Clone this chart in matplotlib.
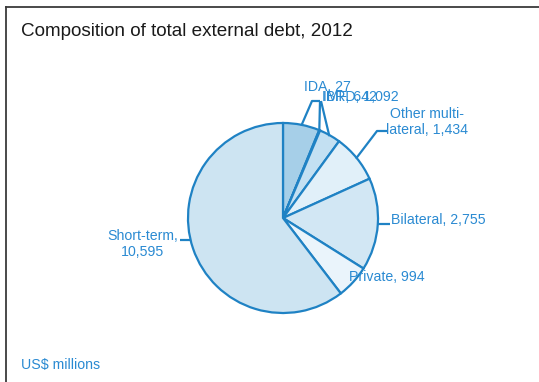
import numpy as np
import matplotlib
matplotlib.use("Agg")
import matplotlib.pyplot as plt
from matplotlib.lines import Line2D

plt.rcParams['font.family'] = ['Liberation Sans', 'DejaVu Sans']

# External debt by creditor, US$ millions (clockwise from 12 o'clock)
categories = ["IBRD", "IDA", "IMF", "Other multi-\nlateral", "Bilateral", "Private", "Short-term,\n"]
names = ["IBRD", "IDA", "IMF", "Other multilateral", "Bilateral", "Private", "Short-term"]
values = [1092, 27, 642, 1434, 2755, 994, 10595]
colors = ["#a6cfe8", "#b9dbef", "#c3e0f2", "#e1f0f9", "#d2e7f4", "#eaf4fb", "#cde4f2"]

title = "Composition of total external debt, 2012"
unit_note = "US$ millions"

BLUE = "#2a8ad2"
EDGE = "#1f82c4"

W, H = 539, 382
fig = plt.figure(figsize=(W / 100, H / 100), dpi=100)
ax = fig.add_axes([0, 0, 1, 1])

def py(y):
    # top-down pixel row to data y
    return H - y

cx, cy, r = 283, py(218), 95
wedges, _ = ax.pie(values, colors=colors, startangle=90, counterclock=False,
                   center=(cx, cy), radius=r,
                   wedgeprops=dict(edgecolor=EDGE, linewidth=1.6))
ax.set_xlim(0, W)
ax.set_ylim(0, H)
ax.set_aspect("equal")
ax.axis("off")

def edge_point(w, frac=1.0):
    mid = np.deg2rad((w.theta1 + w.theta2) / 2)
    return cx + r * frac * np.cos(mid), cy + r * frac * np.sin(mid)

fmt = lambda v: f"{v:,}"
lc = dict(color=EDGE, linewidth=1.6, solid_capstyle="butt")
fs = 10.2

# IBRD / IDA / IMF leaders converge near their stacked labels
x0, y0 = edge_point(wedges[0], 0.99)
ax.plot([x0, 312, 320], [y0, py(101), py(101)], **lc)
x1, y1 = edge_point(wedges[1], 0.99)
ax.plot([x1, 320], [y1, py(101)], **lc)
x2, y2 = edge_point(wedges[2], 0.99)
ax.plot([x2, 321], [y2, py(101)], **lc)
ax.text(304, py(87), f"{names[1]}, {fmt(values[1])}", color=BLUE, fontsize=fs,
        ha="left", va="center")
ax.text(322, py(97), f"{names[0]}, {fmt(values[0])}", color=BLUE, fontsize=fs,
        ha="left", va="center")
ax.text(323, py(97), f"{names[2]}, {fmt(values[2])}", color=BLUE, fontsize=fs,
        ha="left", va="center")

# Other multilateral
x3, y3 = edge_point(wedges[3], 0.99)
ax.plot([x3, 377, 387], [y3, py(131), py(131)], **lc)
ax.text(427, py(122), f"{categories[3]}, {fmt(values[3])}", color=BLUE, fontsize=fs,
        ha="center", va="center", linespacing=1.2)

# Bilateral
x4, y4 = edge_point(wedges[4], 0.99)
ax.plot([x4, 390], [y4, y4], **lc)
ax.text(391, py(220), f"{names[4]}, {fmt(values[4])}", color=BLUE, fontsize=fs,
        ha="left", va="center")

# Private (label sits on the rim)
ax.text(349, py(277), f"{names[5]}, {fmt(values[5])}", color=BLUE, fontsize=fs,
        ha="left", va="center")

# Short-term
ly = py(240)
ex = cx - np.sqrt(r ** 2 - (ly - cy) ** 2)
ax.plot([180, ex], [ly, ly], **lc)
ax.text(143, py(244), f"{categories[6]}{fmt(values[6])}", color=BLUE, fontsize=fs,
        ha="center", va="center", linespacing=1.1)

# Title and unit note
ax.text(21, py(32), title, color="#1a1a1a", fontsize=13.6, ha="left", va="center")
ax.text(21, py(365), unit_note, color=BLUE, fontsize=fs, ha="left", va="center")

# Panel frame: top and left rules
fig.add_artist(Line2D([6 / W, 1], [1 - 7 / H, 1 - 7 / H], transform=fig.transFigure,
                      color="#3a3a3a", linewidth=1.3))
fig.add_artist(Line2D([6 / W, 6 / W], [0, 1 - 7 / H], transform=fig.transFigure,
                      color="#3a3a3a", linewidth=1.3))

fig.savefig("out.png", dpi=100, facecolor="white")
